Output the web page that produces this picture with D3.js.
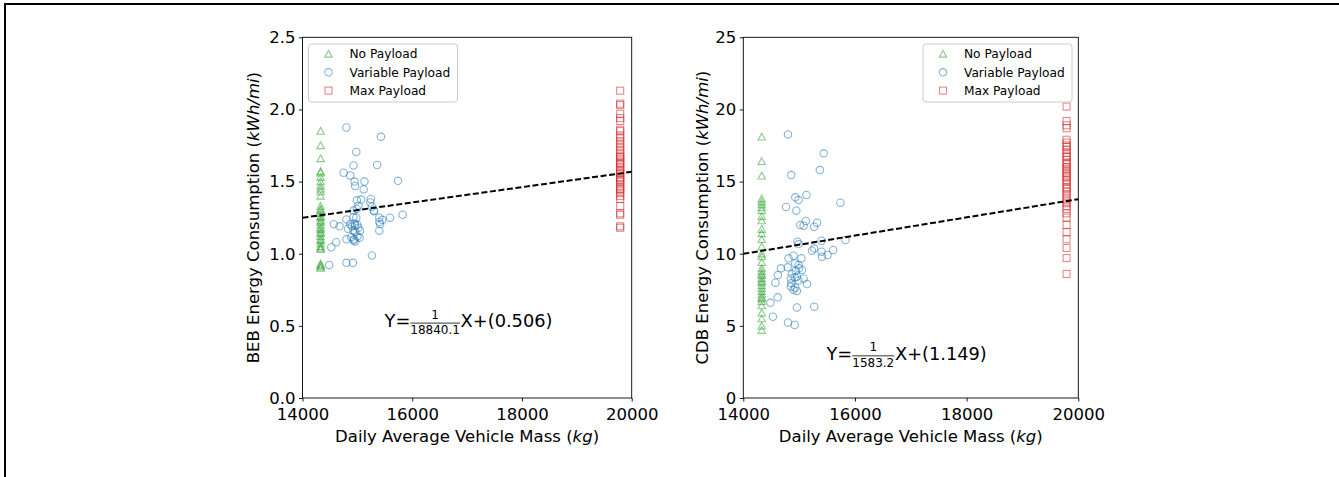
<!DOCTYPE html>
<html>
<head>
<meta charset="utf-8">
<script src="https://cdn.jsdelivr.net/npm/d3@7"></script>
<style>
  body { margin: 0; background: #fff; }
  svg { display: block; font-family: "DejaVu Sans", sans-serif; }
</style>
</head>
<body>
<div id="viz"></div>
<script>
// set up width and height
const width = 1339;
const height = 477;

// ---- data ----
const emptyMass = 14330;   // no payload, kg
const fullMass = 19790;    // max payload, kg

const bebNoPayload = [1.85, 1.75, 1.66, 1.57, 1.56, 1.53, 1.50, 1.47, 1.45, 1.43, 1.40, 1.33, 1.31, 1.30, 1.28,
  1.26, 1.25, 1.23, 1.22, 1.20, 1.18, 1.17, 1.15, 1.14, 1.12, 1.10, 1.09, 1.07, 1.05, 1.04, 1.03, 0.93, 0.92, 0.91, 0.90];
const bebVarMass = [14800, 15430, 14980, 14930, 15360, 14750, 14870, 14950, 15130, 14960, 15115, 15740, 14990, 15070,
  15245, 15235, 15020, 15265, 14930, 15305, 14990, 15400, 15455, 15595, 15825, 14800, 14930, 14570, 14675, 14870,
  14900, 14960, 15020, 14830, 14930, 15050, 15415, 15400, 15000, 14890, 14930, 14960, 15040, 14615, 14800, 14525,
  15265, 14485, 14800, 14920, 14950, 15000, 14980, 15400, 15300, 14940, 14960];
const bebVarEnergy = [1.875, 1.81, 1.705, 1.612, 1.615, 1.562, 1.543, 1.50, 1.50, 1.47, 1.446, 1.505, 1.37, 1.375,
  1.38, 1.355, 1.333, 1.326, 1.30, 1.295, 1.31, 1.25, 1.235, 1.25, 1.27, 1.238, 1.255, 1.205, 1.19, 1.205,
  1.19, 1.195, 1.18, 1.173, 1.16, 1.16, 1.205, 1.16, 1.20, 1.115, 1.092, 1.084, 1.11, 1.08, 1.10, 1.045,
  0.988, 0.922, 0.937, 0.937, 1.21, 1.12, 1.25, 1.22, 1.30, 1.10, 1.15];
const bebMaxPayload = [2.13, 2.04, 2.03, 1.97, 1.94, 1.92, 1.86, 1.85, 1.82, 1.80, 1.78, 1.76, 1.74, 1.72, 1.70,
  1.68, 1.67, 1.66, 1.64, 1.63, 1.62, 1.60, 1.58, 1.57, 1.56, 1.55, 1.53, 1.52, 1.51, 1.50, 1.48, 1.46, 1.45,
  1.44, 1.42, 1.40, 1.38, 1.33, 1.28, 1.27, 1.19, 1.18];

const cdbNoPayload = [18.1, 16.4, 15.4, 13.8, 13.6, 13.4, 13.2, 13.0, 12.6, 12.3, 11.7, 11.4, 11.0, 10.5, 10.0, 9.8,
  9.4, 9.0, 8.8, 8.6, 8.5, 8.3, 8.1, 8.0, 7.8, 7.6, 7.4, 7.2, 7.0, 6.9, 6.7, 6.4, 5.9, 5.5, 5.0, 4.7];
const cdbVarMass = [14800, 15440, 15370, 14860, 15130, 14930, 14990, 15740, 14765, 14950, 15120, 15020, 15080, 15320,
  15270, 15830, 15400, 14970, 14990, 15230, 15270, 15400, 15410, 15510, 15610, 14810, 14900, 15040, 14930, 14990,
  14675, 14795, 15050, 14620, 14870, 14920, 14960, 15080, 14850, 14575, 14860, 14990, 15140, 14850, 14930, 14960,
  14485, 14615, 14960, 15270, 14530, 14800, 14920, 14940, 14900, 15000];
const cdbVarEnergy = [18.27, 16.96, 15.80, 15.45, 14.07, 13.91, 13.72, 13.54, 13.24, 12.98, 12.27, 11.99, 11.94, 12.15,
  11.87, 10.95, 10.90, 10.83, 10.67, 10.21, 10.36, 10.14, 9.79, 9.91, 10.26, 9.68, 9.86, 9.68, 9.33, 9.21,
  8.99, 9.06, 8.87, 8.52, 8.59, 8.36, 8.41, 8.29, 8.27, 7.99, 7.95, 8.15, 7.90, 7.72, 7.65, 7.42,
  6.60, 6.98, 6.28, 6.33, 5.64, 5.24, 5.06, 8.80, 7.50, 9.0];
const cdbMaxPayload = [20.2, 19.2, 18.9, 18.7, 17.9, 17.7, 17.5, 17.4, 17.2, 17.0, 16.8, 16.7, 16.5, 16.3, 16.2, 16.0,
  15.9, 15.7, 15.6, 15.4, 15.3, 15.1, 15.0, 14.8, 14.6, 14.5, 14.3, 14.1, 13.9, 13.7, 13.5, 13.3, 13.1, 12.8,
  12.5, 12.0, 11.5, 11.0, 10.4, 9.7, 8.6];

const xTicks = [14000, 16000, 18000, 20000];
const bebTicks = [0.0, 0.5, 1.0, 1.5, 2.0, 2.5];
const cdbTicks = [0, 5, 10, 15, 20, 25];
const legendLabels = ["No Payload", "Variable Payload", "Max Payload"];

// regression  Y = X / den + intercept
const bebFit = { den: "18840.1", intercept: "0.506" };
const cdbFit = { den: "1583.2", intercept: "1.149" };

const green = "#2ca02c", blue = "#1f77b4", red = "#d62728";

const plot = d3.select("#viz");
const svg = plot.append("svg")
  .attr("width", width)
  .attr("height", height);

// page frame (top and left rule)
svg.append("line").attr("x1", 4).attr("x2", width).attr("y1", 4).attr("y2", 4)
  .attr("stroke", "#000").attr("stroke-width", 2);
svg.append("line").attr("x1", 5).attr("x2", 5).attr("y1", 3).attr("y2", height)
  .attr("stroke", "#000").attr("stroke-width", 2);

function triangle(g, x, y) {
  const s = 3.7;
  return g.append("path")
    .attr("d", `M${x},${y - s}L${x + s},${y + s * 0.85}L${x - s},${y + s * 0.85}Z`)
    .attr("fill", "none").attr("stroke", green).attr("stroke-opacity", 0.55).attr("stroke-width", 1.1);
}
function ring(g, x, y) {
  return g.append("circle").attr("cx", x).attr("cy", y).attr("r", 3.7)
    .attr("fill", "none").attr("stroke", blue).attr("stroke-opacity", 0.55).attr("stroke-width", 1.1);
}
function square(g, x, y) {
  const s = 3.5;
  return g.append("rect").attr("x", x - s).attr("y", y - s).attr("width", 2 * s).attr("height", 2 * s)
    .attr("fill", "none").attr("stroke", red).attr("stroke-opacity", 0.55).attr("stroke-width", 1.1);
}

function drawPanel(p) {
  const x = d3.scaleLinear().domain([14000, 20000]).range([p.left, p.right]);
  const y = d3.scaleLinear().domain([0, p.yMax]).range([p.bottom, p.top]);
  const g = svg.append("g");

  const clipId = "clip" + p.name;
  svg.append("clipPath").attr("id", clipId).append("rect")
    .attr("x", p.left).attr("y", p.top).attr("width", p.right - p.left).attr("height", p.bottom - p.top);

  const marks = g.append("g");
  p.noPayload.forEach(v => triangle(marks, x(emptyMass), y(v)));
  p.varMass.forEach((m, i) => ring(marks, x(m), y(p.varEnergy[i])));
  p.maxPayload.forEach(v => square(marks, x(fullMass), y(v)));

  // fitted line
  const fit = m => m / +p.fit.den + +p.fit.intercept;
  g.append("line")
    .attr("clip-path", `url(#${clipId})`)
    .attr("x1", x(14000)).attr("y1", y(fit(14000)))
    .attr("x2", x(20000)).attr("y2", y(fit(20000)))
    .attr("stroke", "#000").attr("stroke-width", 2).attr("stroke-dasharray", "6,2.6");

  // axes
  const xAxis = g.append("g").attr("transform", `translate(0,${p.bottom})`)
    .call(d3.axisBottom(x).tickValues(xTicks).tickSize(3.5).tickPadding(3.5).tickFormat(d3.format("d")));
  const yAxis = g.append("g").attr("transform", `translate(${p.left},0)`)
    .call(d3.axisLeft(y).tickValues(p.ticks).tickSize(3.5).tickPadding(3.5).tickFormat(p.fmt));
  [xAxis, yAxis].forEach(a => {
    a.select(".domain").remove();
    a.selectAll(".tick line").attr("stroke", "#000").attr("stroke-width", 0.9);
    a.selectAll(".tick text").attr("fill", "#000").style("font-size", "16.5px")
      .style("font-family", "DejaVu Sans");
  });
  xAxis.selectAll(".tick text").attr("dy", "0.88em");

  g.append("rect").attr("x", p.left).attr("y", p.top)
    .attr("width", p.right - p.left).attr("height", p.bottom - p.top)
    .attr("fill", "none").attr("stroke", "#000").attr("stroke-width", 0.9);

  // axis labels
  const xl = g.append("text")
    .attr("x", (p.left + p.right) / 2).attr("y", 442)
    .attr("text-anchor", "middle").style("font-size", "16.5px");
  xl.append("tspan").text("Daily Average Vehicle Mass (");
  xl.append("tspan").style("font-style", "italic").text("kg");
  xl.append("tspan").text(")");

  const yl = g.append("text")
    .attr("transform", `translate(${p.yLabelX},${(p.top + p.bottom) / 2}) rotate(-90)`)
    .attr("text-anchor", "middle").attr("dy", "0.36em").style("font-size", "16.5px");
  yl.append("tspan").text(p.name + " Energy Consumption (");
  yl.append("tspan").style("font-style", "italic").text("kWh/mi");
  yl.append("tspan").text(")");

  // equation
  const eq = g.append("g");
  const ex = x(p.eqX), ey = y(p.eqY);
  const yEq = eq.append("text").attr("x", ex).attr("y", ey).style("font-size", "17.8px").text("Y=");
  const fx = ex + yEq.node().getComputedTextLength();
  const den = eq.append("text").attr("x", fx).attr("y", ey + 6.6).style("font-size", "12px").text(p.fit.den);
  const dw = den.node().getComputedTextLength();
  eq.append("text").attr("x", fx + dw / 2).attr("y", ey - 8.7).attr("text-anchor", "middle")
    .style("font-size", "12px").text("1");
  eq.append("line").attr("x1", fx).attr("x2", fx + dw).attr("y1", ey - 4.2).attr("y2", ey - 4.2)
    .attr("stroke", "#000").attr("stroke-width", 0.8);
  eq.append("text").attr("x", fx + dw + 0.7).attr("y", ey).style("font-size", "17.8px")
    .text("X+(" + p.fit.intercept + ")");

  // legend
  const lg = g.append("g").attr("transform", `translate(${p.legendX},44)`);
  lg.append("rect").attr("width", 149).attr("height", 58).attr("rx", 3)
    .attr("fill", "#fff").attr("fill-opacity", 0.8).attr("stroke", "#ccc").attr("stroke-width", 1);
  const makers = [triangle, ring, square];
  legendLabels.forEach((lab, i) => {
    const cy = 10 + i * 18.3;
    makers[i](lg, 20, cy);
    lg.append("text").attr("x", 41).attr("y", cy).attr("dy", "0.36em")
      .style("font-size", "12.2px").text(lab);
  });
}

drawPanel({
  name: "BEB", left: 302.5, right: 631.7, top: 37.3, bottom: 398, yMax: 2.5,
  ticks: bebTicks, fmt: d3.format(".1f"),
  noPayload: bebNoPayload, varMass: bebVarMass, varEnergy: bebVarEnergy, maxPayload: bebMaxPayload,
  fit: bebFit, eqX: 15495, eqY: 0.49, yLabelX: 253, legendX: 308.5
});

drawPanel({
  name: "CDB", left: 743.3, right: 1078.3, top: 37.3, bottom: 398, yMax: 25,
  ticks: cdbTicks, fmt: d3.format("d"),
  noPayload: cdbNoPayload, varMass: cdbVarMass, varEnergy: cdbVarEnergy, maxPayload: cdbMaxPayload,
  fit: cdbFit, eqX: 15490, eqY: 2.63, yLabelX: 702, legendX: 923
});
</script>
</body>
</html>
